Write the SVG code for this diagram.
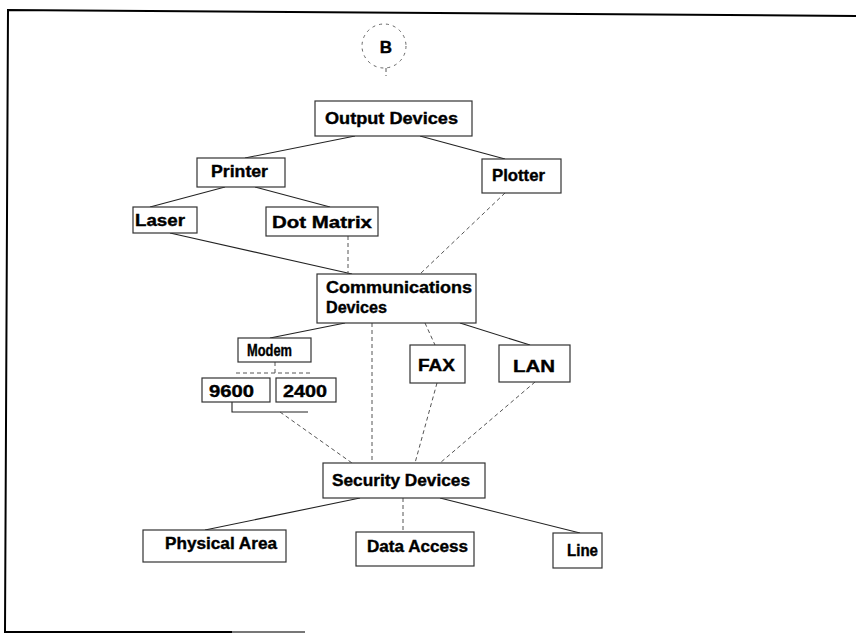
<svg xmlns="http://www.w3.org/2000/svg" width="856" height="635" viewBox="0 0 856 635">
<style>
.box{fill:#fff;stroke:#333;stroke-width:1.2}
.t{font-family:"Liberation Sans",Arial,sans-serif;font-weight:bold;font-size:17px;fill:#000;stroke:#000;stroke-width:0.4}
.c{fill:none;stroke:#222;stroke-width:1.1}
.d{fill:none;stroke:#555;stroke-width:1;stroke-dasharray:4 3}
</style>
<rect width="856" height="635" fill="#fff"/>
<g id="frame" fill="none" stroke="#000" stroke-width="2">
<path d="M856,16 L8,10 L5,632 L232,632"/>
<path d="M232,632 L305,632" stroke="#777"/>
</g>
<g id="connectors">
<line class="d" x1="386" y1="68" x2="386" y2="76"/>
<line class="c" x1="355" y1="136" x2="245" y2="158"/>
<line class="c" x1="420" y1="136" x2="505" y2="159"/>
<line class="c" x1="225" y1="187" x2="150" y2="207"/>
<line class="c" x1="255" y1="187" x2="330" y2="207"/>
<line class="c" x1="170" y1="233" x2="352" y2="274"/>
<line class="d" x1="348" y1="236" x2="348" y2="274"/>
<line class="d" x1="505" y1="193" x2="420" y2="274"/>
<line class="c" x1="345" y1="323" x2="270" y2="338"/>
<line class="d" x1="372" y1="323" x2="372" y2="463"/>
<line class="d" x1="425" y1="323" x2="435" y2="345"/>
<line class="c" x1="460" y1="323" x2="530" y2="345"/>
<path class="d" d="M275,362 L275,373 M236,373 L313,373"/>
<path class="c" d="M232,402 L232,412 L308,412"/>
<line class="d" x1="280" y1="412" x2="352" y2="463"/>
<line class="d" x1="437" y1="383" x2="415" y2="463"/>
<line class="d" x1="535" y1="382" x2="440" y2="463"/>
<line class="c" x1="360" y1="498" x2="205" y2="530"/>
<line class="d" x1="403" y1="498" x2="403" y2="532"/>
<line class="c" x1="440" y1="498" x2="580" y2="533"/>
</g>
<g id="node-B">
<circle cx="384" cy="46" r="22" fill="none" stroke="#666" stroke-width="1" stroke-dasharray="3 4"/>
<text class="t" x="386" y="53" font-size="14" text-anchor="middle">B</text>
</g>
<g id="node-output">
<rect class="box" x="315" y="101" width="157" height="35"/>
<text class="t" x="325" y="124" textLength="133" lengthAdjust="spacingAndGlyphs">Output Devices</text>
</g>
<g id="node-printer">
<rect class="box" x="197" y="158" width="88" height="29"/>
<text class="t" x="211" y="177" textLength="57" lengthAdjust="spacingAndGlyphs">Printer</text>
</g>
<g id="node-plotter">
<rect class="box" x="482" y="159" width="79" height="34"/>
<text class="t" x="492" y="181" textLength="53" lengthAdjust="spacingAndGlyphs">Plotter</text>
</g>
<g id="node-laser">
<rect class="box" x="133" y="207" width="64" height="26"/>
<text class="t" x="135" y="226" textLength="50" lengthAdjust="spacingAndGlyphs">Laser</text>
</g>
<g id="node-dotmatrix">
<rect class="box" x="266" y="207" width="112" height="29"/>
<text class="t" x="272" y="228" textLength="100" lengthAdjust="spacingAndGlyphs">Dot Matrix</text>
</g>
<g id="node-comm">
<rect class="box" x="317" y="274" width="159" height="49"/>
<text class="t" x="326" y="293" textLength="146" lengthAdjust="spacingAndGlyphs">Communications</text>
<text class="t" x="326" y="313" textLength="61" lengthAdjust="spacingAndGlyphs">Devices</text>
</g>
<g id="node-modem">
<rect class="box" x="238" y="338" width="73" height="24"/>
<text class="t" x="247" y="356" textLength="45" lengthAdjust="spacingAndGlyphs">Modem</text>
</g>
<g id="node-9600">
<rect class="box" x="202" y="378" width="68" height="24"/>
<text class="t" x="209" y="397" textLength="45" lengthAdjust="spacingAndGlyphs">9600</text>
</g>
<g id="node-2400">
<rect class="box" x="276" y="378" width="60" height="24"/>
<text class="t" x="283" y="397" textLength="44" lengthAdjust="spacingAndGlyphs">2400</text>
</g>
<g id="node-fax">
<rect class="box" x="410" y="345" width="55" height="38"/>
<text class="t" x="418" y="371" textLength="37" lengthAdjust="spacingAndGlyphs">FAX</text>
</g>
<g id="node-lan">
<rect class="box" x="499" y="345" width="71" height="37"/>
<text class="t" x="513" y="372" font-weight="normal" font-size="22" stroke-width="0.6" textLength="42" lengthAdjust="spacingAndGlyphs">LAN</text>
</g>
<g id="node-security">
<rect class="box" x="323" y="463" width="162" height="35"/>
<text class="t" x="332" y="486" textLength="138" lengthAdjust="spacingAndGlyphs">Security Devices</text>
</g>
<g id="node-physical">
<rect class="box" x="143" y="530" width="143" height="32"/>
<text class="t" x="165" y="549" textLength="112" lengthAdjust="spacingAndGlyphs">Physical Area</text>
</g>
<g id="node-data">
<rect class="box" x="356" y="532" width="118" height="34"/>
<text class="t" x="367" y="552" textLength="101" lengthAdjust="spacingAndGlyphs">Data Access</text>
</g>
<g id="node-line">
<rect class="box" x="553" y="533" width="49" height="35"/>
<text class="t" x="567" y="556" textLength="31" lengthAdjust="spacingAndGlyphs">Line</text>
</g>
</svg>
